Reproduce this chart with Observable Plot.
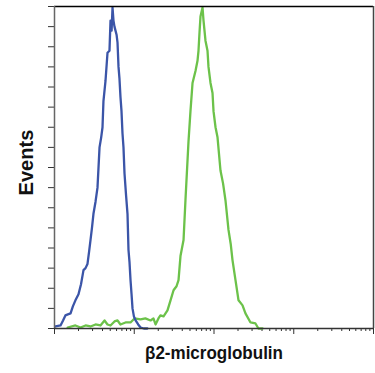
<!DOCTYPE html>
<html>
<head>
<meta charset="utf-8">
<script src="https://cdn.jsdelivr.net/npm/d3@7"></script>
<script src="https://cdn.jsdelivr.net/npm/@observablehq/plot@0.6"></script>
<style>
  html, body { margin: 0; padding: 0; background: #fff; }
  #chart { width: 375px; height: 373px; }
</style>
</head>
<body>
<div id="chart"></div>
<script>
// Isotype control (blue) – fluorescence intensity and event counts
const blueIntensity = [1.03, 1.19, 1.28, 1.37, 1.47, 1.59, 1.70, 1.83, 2.0, 2.15, 2.31, 2.45, 2.59, 2.71, 2.83, 2.95, 3.08, 3.27, 3.46, 3.67, 3.85, 4.0, 4.11, 4.36, 4.62, 4.89, 5.04, 5.20, 5.34, 5.49, 5.65, 5.82, 6.0, 6.17, 6.35, 6.53, 6.72, 6.92, 7.12, 7.33, 7.55, 7.9, 8.23, 8.47, 8.72, 8.98, 9.25, 9.51, 9.9, 10.4, 11.2, 12.0, 13.2, 14.6];
const blueCount     = [1, 1.5, 4, 6.5, 7, 7.5, 11, 14, 17, 22, 29, 30, 32, 38, 44, 50, 57, 63, 70, 90, 95, 100, 113, 123, 137, 138, 153, 148, 159.5, 153, 150, 148, 146, 142, 130, 124, 115, 108, 97, 90, 77, 66, 57, 39, 33, 24, 17, 10, 6, 4, 2, 0.5, 0, 0];

// Anti-β2-microglobulin (green) – fluorescence intensity and event counts
const greenIntensity = [1.46, 1.83, 2.12, 2.45, 2.83, 3.27, 3.77, 4.24, 4.62, 5.04, 5.65, 6.17, 6.72, 7.77, 8.98, 10.07, 12.0, 13.8, 16.0, 17.4, 18.5, 20.1, 21.3, 23.3, 26.1, 28.5, 31.1, 33.9, 35.9, 38.0, 41.5, 43.9, 47.9, 50.7, 53.8, 58.6, 62.1, 63.9, 65.8, 67.7, 71.8, 73.9, 78.2, 82.9, 85.3, 90.4, 95.8, 98.6, 104.5, 110.7, 120.6, 130, 139.4, 152, 162, 170.6, 186, 203, 228, 248, 287, 331, 361, 406];
const greenCount     = [0.5, 1.5, 0.5, 1.5, 1, 2, 1.5, 4, 2, 1.5, 3.5, 4, 2, 3, 3, 5, 4.5, 5, 4, 5, 2, 5, 6.5, 6, 9, 14, 19, 21, 24, 36, 44, 64, 93, 108, 122, 128, 133, 138, 147, 155, 159.5, 153, 143, 138, 130, 122, 117, 108, 100, 95, 78.5, 72, 63.6, 49, 42, 34, 24, 14, 11.5, 7.5, 3, 2.5, 0, 0];

// Axis ticks
const xMajorTicks = [1, 10, 100, 1000, 10000];
const xMinorMultipliers = [2, 3, 4, 5, 6, 7, 8, 9];
const yTicks = [0, 10, 20, 30, 40, 50, 60, 70, 80, 90, 100, 110, 120, 130, 140, 150, 160];
const xLabel = "β2-microglobulin";
const yLabel = "Events";

const blue = blueIntensity.map((x, i) => ({x, y: blueCount[i]}));
const green = greenIntensity.map((x, i) => ({x, y: greenCount[i]}));
const xMinorTicks = xMajorTicks.slice(0, -1).flatMap(d => xMinorMultipliers.map(m => d * m));

const font = "'Liberation Sans', Arial, sans-serif";

const chart = Plot.plot({
  width: 375,
  height: 373,
  marginLeft: 54,
  marginTop: 6,
  marginRight: 2,
  marginBottom: 45,
  style: {fontFamily: font, background: "#fff"},
  x: {type: "log", domain: [1, 10000]},
  y: {domain: [0, 160]},
  marks: [
    Plot.axisY({ticks: yTicks, tickSize: 6, tickFormat: () => "", stroke: "#333", label: null}),
    Plot.axisX({ticks: xMinorTicks, tickSize: 3, tickFormat: () => "", stroke: "#333", label: null}),
    Plot.axisX({ticks: xMajorTicks, tickSize: 6, tickFormat: () => "", stroke: "#333", label: null}),
    Plot.line(green, {x: "x", y: "y", stroke: "#6cc24a", strokeWidth: 2.3}),
    Plot.line(blue, {x: "x", y: "y", stroke: "#3b55a8", strokeWidth: 2.3}),
    Plot.ruleY([160], {stroke: "#000", strokeWidth: 1.5}),
    Plot.ruleX([10000], {stroke: "#444", strokeWidth: 1.5}),
    Plot.ruleX([1], {stroke: "#666", strokeWidth: 1.5}),
    Plot.ruleY([0], {stroke: "#333", strokeWidth: 1.5}),
    Plot.text([xLabel], {frameAnchor: "bottom", textAnchor: "middle", dy: 30, fontSize: 19, fontWeight: "bold", fill: "#111", fontFamily: font, className: "xlab"}),
    Plot.text([yLabel], {frameAnchor: "left", textAnchor: "middle", rotate: -90, dx: -28, dy: -5, fontSize: 20, fontWeight: "bold", fill: "#111", fontFamily: font, className: "ylab"})
  ]
});
document.getElementById("chart").appendChild(chart);
// condense the label glyphs like the reference's narrow bold face
chart.querySelectorAll(".xlab text").forEach(t => { t.setAttribute("textLength", 138); t.setAttribute("lengthAdjust", "spacingAndGlyphs"); });
chart.querySelectorAll(".ylab text").forEach(t => { t.setAttribute("textLength", 66); t.setAttribute("lengthAdjust", "spacingAndGlyphs"); });
</script>
</body>
</html>
